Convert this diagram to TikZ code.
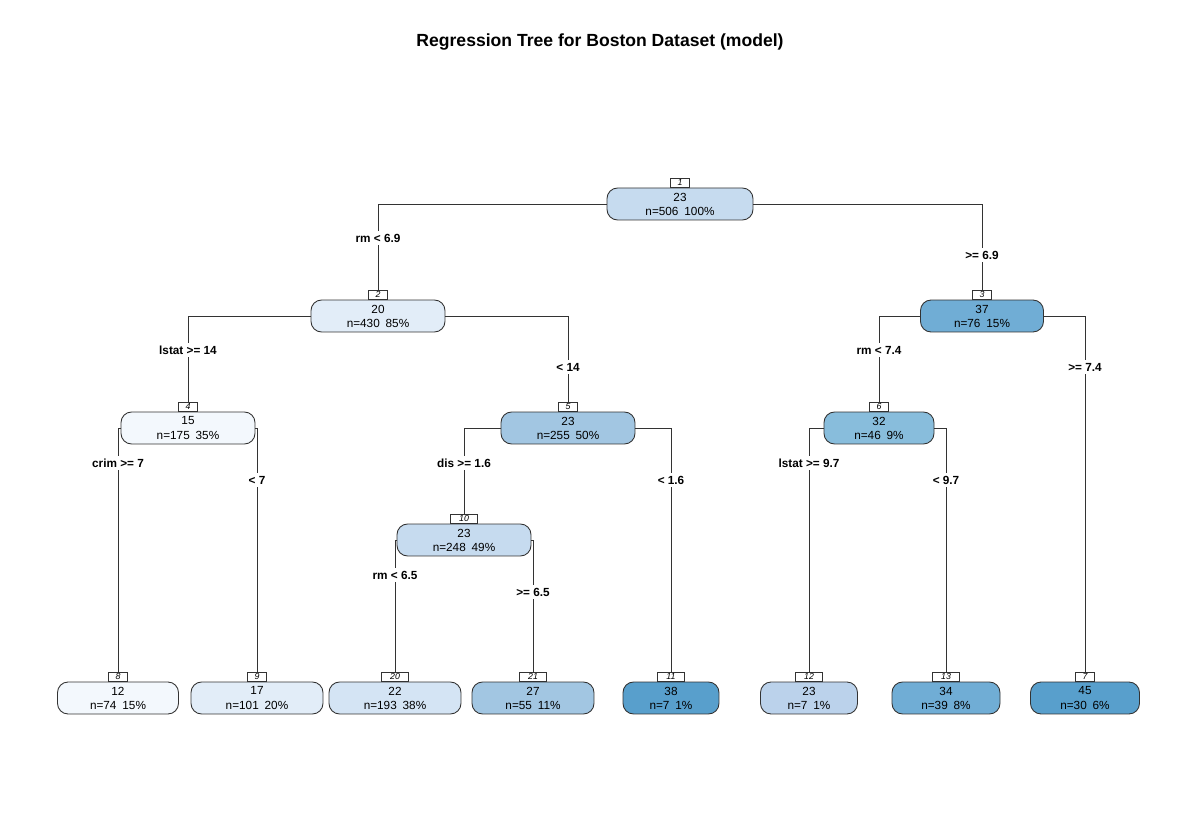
\documentclass[tikz,border=0pt]{standalone}
\usepackage{fontspec}
\setmainfont{Liberation Sans}
\usepackage{tikz}
\usetikzlibrary{positioning}
\definecolor{linegray}{HTML}{333333}
\definecolor{blueA}{HTML}{F3F8FD}
\definecolor{blueB}{HTML}{E2EDF8}
\definecolor{blueC}{HTML}{D4E4F4}
\definecolor{blueD}{HTML}{C6DBEF}
\definecolor{blueE}{HTML}{BBD2EB}
\definecolor{blueF}{HTML}{A2C6E2}
\definecolor{blueG}{HTML}{88BDDC}
\definecolor{blueH}{HTML}{70ADD5}
\definecolor{blueI}{HTML}{589FCC}
\tikzset{
  treenode/.style={
    rectangle, rounded corners=6pt, draw=linegray, line width=0.5pt,
    minimum height=0.64cm, inner sep=0pt, align=center,
    font=\fontsize{6.7}{8}\selectfont
  },
  numtag/.style={
    rectangle, draw=linegray, line width=0.4pt, fill=white,
    minimum width=0.37cm, minimum height=0.18cm, inner sep=0pt,
    font=\fontsize{5}{5}\selectfont\itshape
  },
  numtagwide/.style={numtag, minimum width=0.53cm},
  splitlabel/.style={fill=white, inner sep=1.5pt, font=\fontsize{6.7}{8}\selectfont\bfseries},
  branch/.style={draw=linegray, line width=0.5pt},
}
\begin{document}
\begin{tikzpicture}[x=0.02cm, y=-0.02cm]
  \useasboundingbox (0,0) rectangle (1200,837);
  \node[font=\fontsize{10}{12}\selectfont\bfseries] (title) at (600,42) {Regression Tree for Boston Dataset (model)};

  % inner nodes
  \node[treenode, fill=blueD, minimum width=2.92cm] (n1) at (680,204) {23\\n=506\enspace 100\%};
  \node[treenode, fill=blueB, minimum width=2.68cm] (n2) at (378,316) {20\\n=430\enspace 85\%};
  \node[treenode, fill=blueH, minimum width=2.46cm] (n3) at (982,316) {37\\n=76\enspace 15\%};
  \node[treenode, fill=blueA, minimum width=2.68cm] (n4) at (188,428) {15\\n=175\enspace 35\%};
  \node[treenode, fill=blueF, minimum width=2.68cm] (n5) at (568,428) {23\\n=255\enspace 50\%};
  \node[treenode, fill=blueG, minimum width=2.20cm] (n6) at (879,428) {32\\n=46\enspace 9\%};
  \node[treenode, fill=blueD, minimum width=2.68cm] (n10) at (464,540) {23\\n=248\enspace 49\%};

  % leaves
  \node[treenode, fill=blueA, minimum width=2.42cm] (n8) at (118,698) {12\\n=74\enspace 15\%};
  \node[treenode, fill=blueB, minimum width=2.64cm] (n9) at (257,698) {17\\n=101\enspace 20\%};
  \node[treenode, fill=blueC, minimum width=2.64cm] (n20) at (395,698) {22\\n=193\enspace 38\%};
  \node[treenode, fill=blueF, minimum width=2.44cm] (n21) at (533,698) {27\\n=55\enspace 11\%};
  \node[treenode, fill=blueI, minimum width=1.92cm] (n11) at (671,698) {38\\n=7\enspace 1\%};
  \node[treenode, fill=blueE, minimum width=1.94cm] (n12) at (809,698) {23\\n=7\enspace 1\%};
  \node[treenode, fill=blueH, minimum width=2.16cm] (n13) at (946,698) {34\\n=39\enspace 8\%};
  \node[treenode, fill=blueI, minimum width=2.18cm] (n7) at (1085,698) {45\\n=30\enspace 6\%};

  % node numbers
  \node[numtag, above=0pt of n1] (t1) {1};
  \node[numtag, above=0pt of n2] (t2) {2};
  \node[numtag, above=0pt of n3] (t3) {3};
  \node[numtag, above=0pt of n4] (t4) {4};
  \node[numtag, above=0pt of n5] (t5) {5};
  \node[numtag, above=0pt of n6] (t6) {6};
  \node[numtagwide, above=0pt of n10] (t10) {10};
  \node[numtag, above=0pt of n8] (t8) {8};
  \node[numtag, above=0pt of n9] (t9) {9};
  \node[numtagwide, above=0pt of n20] (t20) {20};
  \node[numtagwide, above=0pt of n21] (t21) {21};
  \node[numtagwide, above=0pt of n11] (t11) {11};
  \node[numtagwide, above=0pt of n12] (t12) {12};
  \node[numtagwide, above=0pt of n13] (t13) {13};
  \node[numtag, above=0pt of n7] (t7) {7};

  % split labels
  \node[splitlabel] (s2) at (378,238) {rm < 6.9};
  \node[splitlabel] (s3) at (982,255) {>= 6.9};
  \node[splitlabel] (s4) at (188,350) {lstat >= 14};
  \node[splitlabel] (s5) at (568,367) {< 14};
  \node[splitlabel] (s6) at (879,350) {rm < 7.4};
  \node[splitlabel] (s7) at (1085,367) {>= 7.4};
  \node[splitlabel] (s8) at (118,463) {crim >= 7};
  \node[splitlabel] (s9) at (257,480) {< 7};
  \node[splitlabel] (s10) at (464,463) {dis >= 1.6};
  \node[splitlabel] (s11) at (671,480) {< 1.6};
  \node[splitlabel] (s12) at (809,463) {lstat >= 9.7};
  \node[splitlabel] (s13) at (946,480) {< 9.7};
  \node[splitlabel] (s20) at (395,575) {rm < 6.5};
  \node[splitlabel] (s21) at (533,592) {>= 6.5};

  % branches
  \draw[branch] (n1) -| (s2) -- (t2);
  \draw[branch] (n1) -| (s3) -- (t3);
  \draw[branch] (n2) -| (s4) -- (t4);
  \draw[branch] (n2) -| (s5) -- (t5);
  \draw[branch] (n3) -| (s6) -- (t6);
  \draw[branch] (n3) -| (s7) -- (t7);
  \draw[branch] (n4) -| (s8) -- (t8);
  \draw[branch] (n4) -| (s9) -- (t9);
  \draw[branch] (n5) -| (s10) -- (t10);
  \draw[branch] (n5) -| (s11) -- (t11);
  \draw[branch] (n6) -| (s12) -- (t12);
  \draw[branch] (n6) -| (s13) -- (t13);
  \draw[branch] (n10) -| (s20) -- (t20);
  \draw[branch] (n10) -| (s21) -- (t21);
\end{tikzpicture}
\end{document}
